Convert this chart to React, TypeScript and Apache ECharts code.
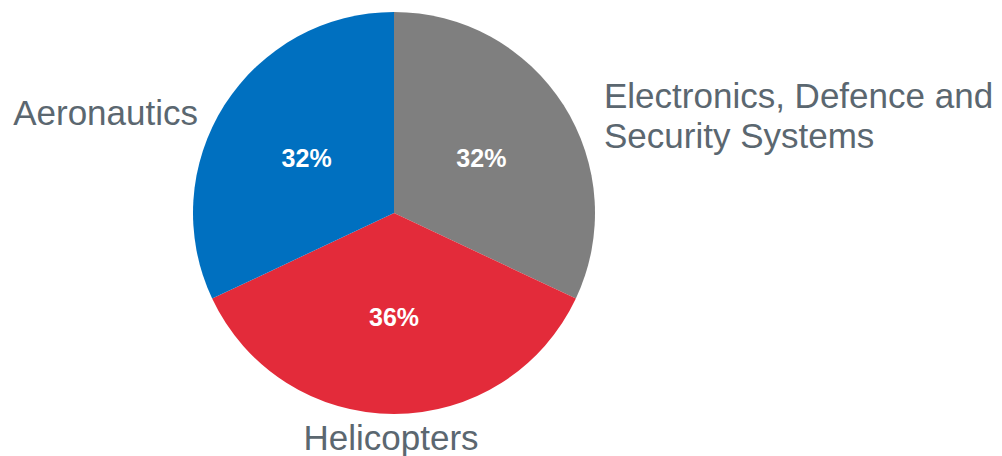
import React, { useEffect, useRef } from "react";
import * as echarts from "echarts";

const categories = ["Electronics, Defence and\nSecurity Systems", "Helicopters", "Aeronautics"];
const shares = [32, 36, 32];
const colors = ["#7f7f7f", "#e32b3a", "#0070c0"];

// outside label anchor positions (label layout only)
const labelPos = [
  { x: 604, y: 115, align: "left" },
  { x: 391, y: 437, align: "center" },
  { x: 198, y: 112, align: "right" },
];

export default function App() {
  const ref = useRef<HTMLDivElement>(null);
  useEffect(() => {
    const chart = echarts.init(ref.current!, null, { renderer: "svg" });
    const data = categories.map((name, i) => ({
      name,
      value: shares[i],
      itemStyle: { color: colors[i] },
    }));
    chart.setOption({
      animation: false,
      series: [
        {
          type: "pie",
          center: [394, 213],
          radius: [0, 201],
          startAngle: 90,
          clockwise: true,
          silent: true,
          data,
          label: {
            show: true,
            position: "inside",
            formatter: "{c}%",
            color: "#ffffff",
            fontFamily: "Liberation Sans, Arial, sans-serif",
            fontWeight: "bold",
            fontSize: 25,
          },
          labelLine: { show: false },
          itemStyle: { borderWidth: 0 },
        },
        {
          type: "pie",
          center: [394, 213],
          radius: [0, 201],
          startAngle: 90,
          clockwise: true,
          silent: true,
          z: 1,
          data: categories.map((name, i) => ({
            name,
            value: shares[i],
            itemStyle: { color: "transparent" },
          })),
          label: {
            show: true,
            position: "inside",
            formatter: "{b}",
            color: "#5b6770",
            fontFamily: "Liberation Sans, Arial, sans-serif",
            fontSize: 35,
            lineHeight: 40,
            overflow: "none",
          },
          labelLine: { show: false },
          labelLayout: (p: any) => {
            const lp = labelPos[p.dataIndex];
            return { x: lp.x, y: lp.y, align: lp.align, verticalAlign: "middle" };
          },
        },
      ],
    });
    return () => chart.dispose();
  }, []);
  return (
    <div
      ref={ref}
      style={{ position: "fixed", left: 0, top: 0, width: 1002, height: 456, background: "#fff" }}
    />
  );
}
